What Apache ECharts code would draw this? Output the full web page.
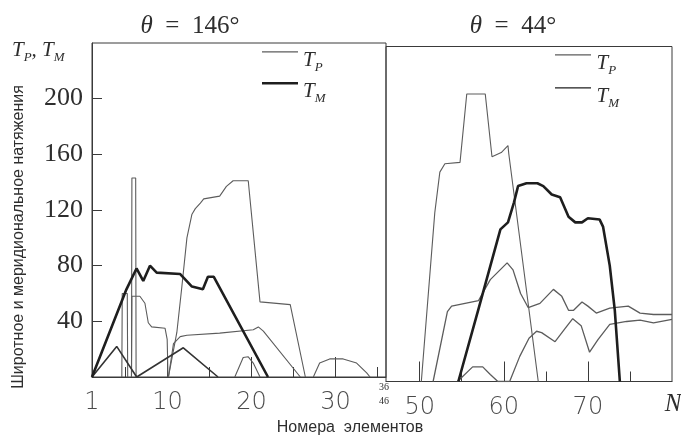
<!DOCTYPE html>
<html><head><meta charset="utf-8">
<script src="https://cdn.jsdelivr.net/npm/echarts@6/dist/echarts.min.js"></script>
<style>html,body{margin:0;padding:0;background:#fff}#c{width:681px;height:438px}</style>
</head><body><div id="c"></div>
<script>
// ---- tick labels ----
const yTicks = [40, 80, 120, 160, 200];
const xLabelsLeft = [1, 10, 20, 30];
const xMajorLeft = [10, 20, 30];
const xMinorLeft = [5, 15, 25, 35];
const xLabelsRight = [50, 60, 70];
const xMajorRight = [50, 60, 70];
const xMinorRight = [55, 65, 75];

// ---- theta = 146 deg panel (element N, tension) ----
const tm146 = [[1,0],[5.1,63],[6.3,78],[7.1,69],[7.9,80],[8.7,75],[11.5,74],[12.9,65],[14.2,63],[14.8,72],[15.5,72],[21.95,0]];
const tp146 = [[10.1,0],[11.1,32],[11.7,65],[12.3,100],[12.9,117],[13.3,121],[13.9,125],[14.3,128],[16.2,130],[17.0,137],[17.8,141],[19.6,141],[21.0,54],[24.6,52],[26.4,0]];
const spike146 = [[5.7,0],[5.75,143],[6.2,143],[6.25,0]];
const box146 = [[4.55,0],[4.6,60],[5.2,60],[5.25,0]];
const hump146 = [[5.7,0],[5.75,58],[6.7,58],[7.3,53],[7.7,39],[8.1,36],[9.7,35],[9.95,27],[10.05,0]];
const level146 = [[10.1,0],[10.7,24],[11.5,29],[12.3,30],[16.2,31.5],[20.2,34],[20.8,36],[21.4,33],[25.8,0]];
const tri146 = [[1,0],[3.94,22],[6.32,0],[11.87,21],[16.0,0]];
const small146 = [[18.0,0],[19.0,14],[19.6,14.5],[20.2,10],[21.0,0]];
const bell146 = [[27.35,0],[28.1,10],[29.3,13],[30.9,13],[32.5,10],[33.7,3],[34.1,0]];

// ---- theta = 44 deg panel ----
const tp44 = [[50.2,0],[51.8,121],[52.4,150],[53.0,156],[54.8,157],[55.6,206],[57.8,206],[58.6,161],[59.7,164],[60.5,169],[60.6,163],[64.1,0]];
const tm44 = [[54.6,0],[57.0,52],[59.6,109],[60.5,114],[61.2,128],[61.7,140],[62.7,142],[64.0,142],[64.7,140],[65.7,134],[66.7,132],[67.2,125],[67.7,118],[68.5,114],[69.3,114],[70.0,117],[71.4,116],[71.8,111],[72.6,83],[73.2,51],[73.8,0]];
const g44 = [[51.6,0],[53.3,50],[53.8,54],[57.0,58],[58.4,73],[60.4,85],[61.1,80],[62.0,63],[62.9,53],[64.3,56],[65.9,66],[66.9,61],[67.7,51],[68.3,51],[69.3,57],[70.0,54],[71.0,49],[72.6,52.5],[74.8,54],[76.2,49],[77.8,48],[80,48]];
const k44 = [[54.5,0],[56.3,10.5],[57.5,10.5],[58.4,5],[59.3,0],[60.7,0],[61.9,18],[63.0,31],[63.9,36],[64.5,35],[66.1,28.5],[67.3,38],[68.2,45],[69.2,40],[70.2,21],[71.2,30],[72.6,41],[74.6,43],[76.2,44],[77.8,42],[80,44.5]];

const THIN = '#5c5c5c', THICK = '#1e1e1e', AX = '#3a3a3a', TXT = '#2e2e2e';
const serif = '"Liberation Serif", "DejaVu Serif", serif';
const sans = '"DejaVu Sans", sans-serif';

function ln(name, data, xi, yi, w, c) {
  return {name, type:'line', data, xAxisIndex:xi, yAxisIndex:yi, symbol:'none', silent:true,
    lineStyle:{width:w, color:c}, itemStyle:{color:c}, z: w > 2 ? 5 : 3};
}
const richT = {
  t:{fontFamily:serif, fontStyle:'italic', fontSize:21, color:TXT, verticalAlign:'top', lineHeight:24},
  s:{fontFamily:serif, fontStyle:'italic', fontSize:13, color:TXT, verticalAlign:'top', lineHeight:13, padding:[11,0,0,0]}
};
const subName = {TP146:'P', TM146:'M', TP44:'P', TM44:'M'};
// key line drawn at the top of a 36x22 icon box so it sits just above the cap of "T"
const thinIcon = 'path://M0,0 L0,0 M0,0.35 L36,0.35 L36,1.45 L0,1.45 Z M36,22 L36,22';
const thickIcon = 'path://M0,0 L0,0 M0,0 L36,0 L36,2.6 L0,2.6 Z M36,22 L36,22';

const chart = echarts.init(document.getElementById('c'), null, {renderer:'canvas'});
chart.setOption({
  animation:false,
  backgroundColor:'#ffffff',
  grid:[
    {left:92, top:43, width:294, height:334, show:true, borderColor:AX, borderWidth:1, backgroundColor:'transparent'},
    {left:386, top:46.5, width:286, height:335, show:true, borderColor:AX, borderWidth:1, backgroundColor:'transparent'}
  ],
  xAxis:[
    {gridIndex:0, type:'value', min:1, max:36, splitLine:{show:false},
     axisLine:{lineStyle:{color:AX}},
     axisTick:{inside:true, length:20, customValues:xMajorLeft, lineStyle:{color:AX}},
     axisLabel:{customValues:xLabelsLeft, fontFamily:sans, fontSize:24, color:'#4a4a4a', fontWeight:'lighter', margin:14}},
    {gridIndex:0, type:'value', min:1, max:36, position:'bottom', splitLine:{show:false},
     axisLine:{show:false}, axisTick:{inside:true, length:10, customValues:xMinorLeft, lineStyle:{color:AX}},
     axisLabel:{show:false}},
    {gridIndex:1, type:'value', min:46, max:80, splitLine:{show:false},
     axisLine:{lineStyle:{color:AX}},
     axisTick:{inside:true, length:20, customValues:xMajorRight, lineStyle:{color:AX}},
     axisLabel:{customValues:xLabelsRight, fontFamily:sans, fontSize:24, color:'#4a4a4a', fontWeight:'lighter', margin:14}},
    {gridIndex:1, type:'value', min:46, max:80, position:'bottom', splitLine:{show:false},
     axisLine:{show:false}, axisTick:{inside:true, length:10, customValues:xMinorRight, lineStyle:{color:AX}},
     axisLabel:{show:false}}
  ],
  yAxis:[
    {gridIndex:0, type:'value', min:0, max:240, splitLine:{show:false},
     axisLine:{show:true, lineStyle:{color:AX}},
     axisTick:{inside:true, length:10, customValues:yTicks, lineStyle:{color:AX}},
     axisLabel:{customValues:yTicks, fontFamily:serif, fontSize:26, color:TXT, margin:9}},
    {gridIndex:1, type:'value', min:0, max:240, show:false}
  ],
  legend:[
    {data:[{name:'TP146', icon:thinIcon}, {name:'TM146', icon:thickIcon}], orient:'vertical', left:262, top:50,
     padding:0, itemWidth:36, itemHeight:22, itemGap:7,
     formatter:n => '{t|T}{s|' + subName[n] + '}', textStyle:{rich:richT}, selectedMode:false},
    {data:[{name:'TP44', icon:thinIcon}, {name:'TM44', icon:thinIcon}], orient:'vertical', left:555, top:53,
     padding:0, itemWidth:37, itemHeight:22, itemGap:9,
     formatter:n => '{t|T}{s|' + subName[n] + '}', textStyle:{rich:richT}, selectedMode:false}
  ],
  graphic:[
    {type:'text', x:190, y:26, style:{text:'{i|θ}\u2002=\u2002146°', textAlign:'center', textVerticalAlign:'middle',
      font:'25px ' + serif, fill:TXT, rich:{i:{fontFamily:serif, fontStyle:'italic', fontSize:25, fill:TXT}}}},
    {type:'text', x:513, y:26, style:{text:'{i|θ}\u2002=\u200244°', textAlign:'center', textVerticalAlign:'middle',
      font:'25px ' + serif, fill:TXT, rich:{i:{fontFamily:serif, fontStyle:'italic', fontSize:25, fill:TXT}}}},
    {type:'text', x:12, y:40, style:{text:'{t|T}{s|P}{t|, T}{s|M}', rich:richT, fill:TXT}},
    {type:'text', x:19, y:237, rotation:Math.PI / 2, style:{text:'Широтное и меридиональное натяжения',
      textAlign:'center', textVerticalAlign:'middle', font:'16px "Liberation Sans", sans-serif', fill:TXT}},
    {type:'text', x:350, y:428, style:{text:'Номера  элементов', textAlign:'center', textVerticalAlign:'middle',
      font:'16px "Liberation Sans", sans-serif', fill:TXT}},
    {type:'text', x:384, y:387, style:{text:'36', textAlign:'center', textVerticalAlign:'middle', font:'10px ' + serif, fill:TXT}},
    {type:'text', x:384, y:401, style:{text:'46', textAlign:'center', textVerticalAlign:'middle', font:'10px ' + serif, fill:TXT}},
    {type:'text', x:673, y:404, style:{text:'N', textAlign:'center', textVerticalAlign:'middle', font:'italic 25px ' + serif, fill:TXT}}
  ],
  series:[
    ln('TP146', tp146, 0, 0, 1.1, THIN),
    ln('TM146', tm146, 0, 0, 2.6, THICK),
    ln('spike146', spike146, 0, 0, 1.1, THIN),
    ln('box146', box146, 0, 0, 1.1, THIN),
    ln('hump146', hump146, 0, 0, 1.1, THIN),
    ln('level146', level146, 0, 0, 1.1, THIN),
    ln('tri146', tri146, 0, 0, 1.6, '#333'),
    ln('small146', small146, 0, 0, 1.1, THIN),
    ln('bell146', bell146, 0, 0, 1.1, THIN),
    ln('TP44', tp44, 2, 1, 1.1, THIN),
    ln('TM44', tm44, 2, 1, 2.6, THICK),
    ln('g44', g44, 2, 1, 1.3, THIN),
    ln('k44', k44, 2, 1, 1.3, THIN)
  ]
});
</script></body></html>
